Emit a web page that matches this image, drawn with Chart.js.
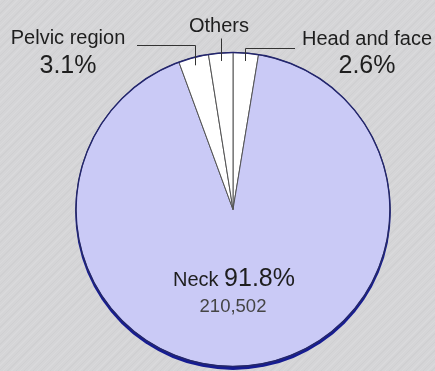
<!DOCTYPE html>
<html>
<head>
  <title>Share by body site</title>
  <script src="https://cdn.jsdelivr.net/npm/chart.js"></script>
  <style>
    html, body { margin: 0; padding: 0; }
    body {
      width: 435px; height: 371px; overflow: hidden;
      background-color: #d5d5d7;
      background-image: repeating-linear-gradient(135deg, rgba(255,255,255,0.10) 0 1px, rgba(0,0,0,0) 1px 3px, rgba(0,0,0,0.025) 3px 4px, rgba(0,0,0,0) 4px 6px);
    }
    #wrap { width: 435px; height: 371px; position: relative; }
  </style>
</head>
<body>
  <div id="wrap"><canvas id="myChart"></canvas></div>
  <script>
    // data
    const labels = ['Head and face', 'Neck', 'Pelvic region', 'Others'];
    const percents = [2.6, 91.8, 3.1, 2.5];
    const neckCount = '210,502';

    const fills = ['#ffffff', '#cacaf6', '#ffffff', '#ffffff'];
    const FONT = '"Liberation Sans", Arial, Helvetica, sans-serif';

    // where the callout texts sit
    const callouts = {
      'Head and face': { elbowY: 48, endX: 295, textX: 367, nameY: 45, pctY: 73 },
      'Pelvic region': { elbowY: 45, endX: 137, textX: 68, nameY: 44, pctY: 73 },
      'Others': { elbowY: 38, endX: null, textX: 219, nameY: 32, pctY: null }
    };

    const pieExtras = {
      id: 'pieExtras',
      beforeDatasetsDraw(chart) {
        const a = chart.getDatasetMeta(0).data[0];
        const ctx = chart.ctx;
        ctx.save();
        ctx.fillStyle = '#161c92';
        ctx.beginPath();
        ctx.arc(a.x, a.y + 2.6, a.outerRadius + 0.8, 0, Math.PI * 2);
        ctx.fill();
        ctx.restore();
      },
      afterDatasetsDraw(chart) {
        const meta = chart.getDatasetMeta(0);
        const a0 = meta.data[0];
        const cx = a0.x, cy = a0.y, r = a0.outerRadius;
        const ctx = chart.ctx;
        ctx.save();
        // outer rim
        ctx.strokeStyle = '#22256e';
        ctx.lineWidth = 1.4;
        ctx.beginPath();
        ctx.arc(cx, cy, r, 0, Math.PI * 2);
        ctx.stroke();

        ctx.strokeStyle = '#333';
        ctx.lineWidth = 1;
        ctx.fillStyle = '#1e1e1e';
        ctx.textAlign = 'center';
        ctx.textBaseline = 'alphabetic';
        meta.data.forEach((arc, i) => {
          const c = callouts[labels[i]];
          if (!c) return;
          const mid = (arc.startAngle + arc.endAngle) / 2;
          const ax = Math.round(cx + Math.cos(mid) * (r - 8)) + 0.5;
          const ay = cy + Math.sin(mid) * (r - 8);
          ctx.beginPath();
          ctx.moveTo(ax, ay);
          ctx.lineTo(ax, c.elbowY + 0.5);
          if (c.endX !== null) ctx.lineTo(c.endX, c.elbowY + 0.5);
          ctx.stroke();
          ctx.font = '20px ' + FONT;
          ctx.fillText(labels[i], c.textX, c.nameY);
          if (c.pctY !== null) {
            ctx.font = '25px ' + FONT;
            ctx.fillText(percents[i].toFixed(1) + '%', c.textX, c.pctY);
          }
        });

        // label inside the big slice
        const ni = labels.indexOf('Neck');
        const nameTxt = labels[ni] + ' ';
        const pctTxt = percents[ni].toFixed(1) + '%';
        ctx.font = '20px ' + FONT;
        const w1 = ctx.measureText(nameTxt).width;
        ctx.font = '25px ' + FONT;
        const w2 = ctx.measureText(pctTxt).width;
        const left = cx + 1 - (w1 + w2) / 2;
        ctx.textAlign = 'left';
        ctx.font = '20px ' + FONT;
        ctx.fillText(nameTxt, left, cy + 76);
        ctx.font = '25px ' + FONT;
        ctx.fillText(pctTxt, left + w1, cy + 76);
        ctx.textAlign = 'center';
        ctx.fillStyle = '#454545';
        ctx.font = '18.5px ' + FONT;
        ctx.fillText(neckCount, cx, cy + 102);
        ctx.restore();
      }
    };

    const ctx = document.getElementById('myChart').getContext('2d');
    const chart = new Chart(ctx, {
      type: 'pie',
      data: {
        labels: labels,
        datasets: [{
          data: percents,
          backgroundColor: fills,
          borderColor: '#555',
          borderWidth: 1
        }]
      },
      options: {
        responsive: true,
        maintainAspectRatio: false,
        animation: false,
        layout: { padding: { left: 75, right: 44, top: 52, bottom: 4 } },
        plugins: {
          legend: { display: false },
          tooltip: { enabled: false }
        }
      },
      plugins: [pieExtras]
    });
  </script>
</body>
</html>
